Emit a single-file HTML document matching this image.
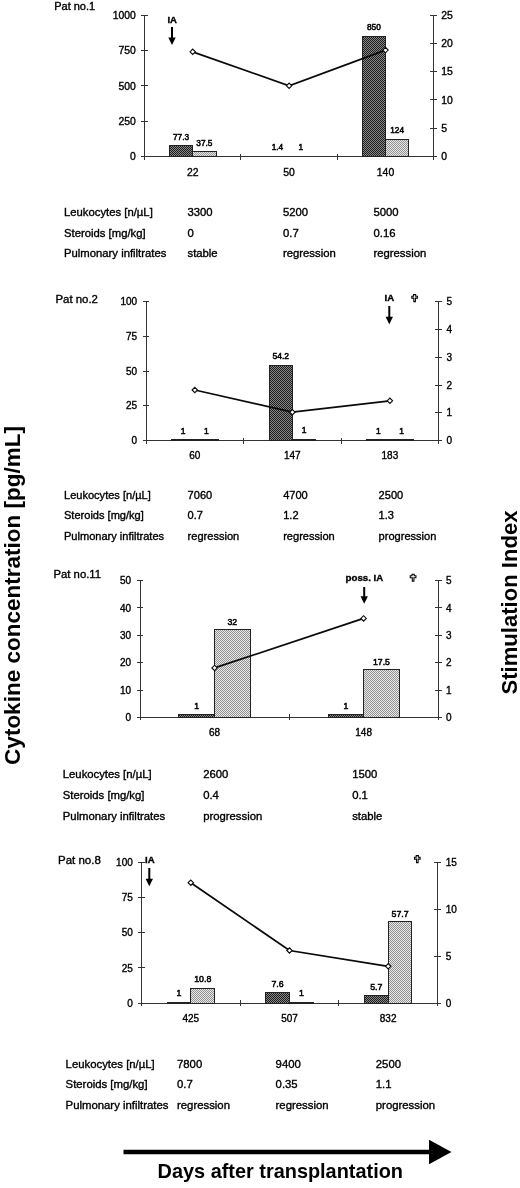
<!DOCTYPE html>
<html><head><meta charset="utf-8"><title>Figure</title>
<style>
html,body{margin:0;padding:0;background:#fff;}
body{width:520px;height:1188px;overflow:hidden;}
svg{display:block;font-family:"Liberation Sans",sans-serif;fill:#111;filter:grayscale(1);-webkit-font-smoothing:antialiased;}
svg text{fill:#000;stroke:#000;stroke-width:0.36px;}
svg text.dl{stroke-width:0.5px;}
svg text.big{stroke:none;}
</style></head><body>
<svg width="520" height="1188" viewBox="0 0 520 1188">
<defs>
<pattern id="dk" width="2" height="2" patternUnits="userSpaceOnUse"><rect width="2" height="2" fill="#868686"/><rect width="1" height="1" fill="#1e1e1e"/><rect x="1" y="1" width="1" height="1" fill="#1e1e1e"/></pattern>
<pattern id="lt" width="2" height="2" patternUnits="userSpaceOnUse"><rect width="2" height="2" fill="#e8e8e8"/><rect width="1" height="1" fill="#929292"/><rect x="1" y="1" width="1" height="1" fill="#929292"/></pattern>
</defs>
<rect width="520" height="1188" fill="#fff"/>
<line x1="144.5" y1="15" x2="144.5" y2="156.6" stroke="#333" stroke-width="1" shape-rendering="crispEdges"/>
<line x1="433.7" y1="15" x2="433.7" y2="156.6" stroke="#333" stroke-width="1" shape-rendering="crispEdges"/>
<line x1="144.5" y1="156.6" x2="433.7" y2="156.6" stroke="#333" stroke-width="1" shape-rendering="crispEdges"/>
<line x1="141.2" y1="156.6" x2="147.8" y2="156.6" stroke="#333" stroke-width="1" shape-rendering="crispEdges"/>
<text x="135.9" y="160.34" font-size="10.4" text-anchor="end">0</text>
<line x1="141.2" y1="121.2" x2="147.8" y2="121.2" stroke="#333" stroke-width="1" shape-rendering="crispEdges"/>
<text x="135.9" y="124.94" font-size="10.4" text-anchor="end">250</text>
<line x1="141.2" y1="85.8" x2="147.8" y2="85.8" stroke="#333" stroke-width="1" shape-rendering="crispEdges"/>
<text x="135.9" y="89.54" font-size="10.4" text-anchor="end">500</text>
<line x1="141.2" y1="50.4" x2="147.8" y2="50.4" stroke="#333" stroke-width="1" shape-rendering="crispEdges"/>
<text x="135.9" y="54.14" font-size="10.4" text-anchor="end">750</text>
<line x1="141.2" y1="15.0" x2="147.8" y2="15.0" stroke="#333" stroke-width="1" shape-rendering="crispEdges"/>
<text x="135.9" y="18.74" font-size="10.4" text-anchor="end">1000</text>
<line x1="430.4" y1="156.6" x2="437.0" y2="156.6" stroke="#333" stroke-width="1" shape-rendering="crispEdges"/>
<text x="441.2" y="160.34" font-size="10.4" text-anchor="start">0</text>
<line x1="430.4" y1="128.28" x2="437.0" y2="128.28" stroke="#333" stroke-width="1" shape-rendering="crispEdges"/>
<text x="441.2" y="132.02" font-size="10.4" text-anchor="start">5</text>
<line x1="430.4" y1="99.96" x2="437.0" y2="99.96" stroke="#333" stroke-width="1" shape-rendering="crispEdges"/>
<text x="441.2" y="103.7" font-size="10.4" text-anchor="start">10</text>
<line x1="430.4" y1="71.64" x2="437.0" y2="71.64" stroke="#333" stroke-width="1" shape-rendering="crispEdges"/>
<text x="441.2" y="75.38" font-size="10.4" text-anchor="start">15</text>
<line x1="430.4" y1="43.32" x2="437.0" y2="43.32" stroke="#333" stroke-width="1" shape-rendering="crispEdges"/>
<text x="441.2" y="47.06" font-size="10.4" text-anchor="start">20</text>
<line x1="430.4" y1="15.0" x2="437.0" y2="15.0" stroke="#333" stroke-width="1" shape-rendering="crispEdges"/>
<text x="441.2" y="18.74" font-size="10.4" text-anchor="start">25</text>
<line x1="144.5" y1="153.6" x2="144.5" y2="159.6" stroke="#333" stroke-width="1" shape-rendering="crispEdges"/>
<line x1="240.9" y1="153.6" x2="240.9" y2="159.6" stroke="#333" stroke-width="1" shape-rendering="crispEdges"/>
<line x1="337.3" y1="153.6" x2="337.3" y2="159.6" stroke="#333" stroke-width="1" shape-rendering="crispEdges"/>
<line x1="433.7" y1="153.6" x2="433.7" y2="159.6" stroke="#333" stroke-width="1" shape-rendering="crispEdges"/>
<rect x="169.4" y="145.65" width="23.3" height="10.95" fill="url(#dk)" stroke="#222" stroke-width="1" shape-rendering="crispEdges"/>
<rect x="192.7" y="151.29" width="23.3" height="5.31" fill="url(#lt)" stroke="#222" stroke-width="1" shape-rendering="crispEdges"/>
<text x="181.04999999999998" y="140.4" font-size="8.3" text-anchor="middle" class="dl">77.3</text>
<text x="204.35" y="146.0" font-size="8.3" text-anchor="middle" class="dl">37.5</text>
<text x="192.7" y="175.79999999999998" font-size="10.4" text-anchor="middle">22</text>
<text x="277.45000000000005" y="150.1" font-size="8.3" text-anchor="middle" class="dl">1.4</text>
<text x="300.75" y="150.2" font-size="8.3" text-anchor="middle" class="dl">1</text>
<text x="289.1" y="175.79999999999998" font-size="10.4" text-anchor="middle">50</text>
<rect x="362.2" y="36.24" width="23.3" height="120.36" fill="url(#dk)" stroke="#222" stroke-width="1" shape-rendering="crispEdges"/>
<rect x="385.5" y="139.04" width="23.3" height="17.56" fill="url(#lt)" stroke="#222" stroke-width="1" shape-rendering="crispEdges"/>
<text x="373.85" y="29.8" font-size="8.3" text-anchor="middle" class="dl">850</text>
<text x="397.15" y="133.4" font-size="8.3" text-anchor="middle" class="dl">124</text>
<text x="385.5" y="175.79999999999998" font-size="10.4" text-anchor="middle">140</text>
<path d="M192.7 51.8L289.1 85.8L385.5 50.1" fill="none" stroke="#0a0a0a" stroke-width="1.75"/>
<path d="M190.0 51.8L192.7 49.099999999999994L195.39999999999998 51.8L192.7 54.5Z" fill="#fff" stroke="#0a0a0a" stroke-width="1.1"/>
<path d="M286.40000000000003 85.8L289.1 83.1L291.8 85.8L289.1 88.5Z" fill="#fff" stroke="#0a0a0a" stroke-width="1.1"/>
<path d="M382.8 50.1L385.5 47.4L388.2 50.1L385.5 52.800000000000004Z" fill="#fff" stroke="#0a0a0a" stroke-width="1.1"/>
<text x="54.2" y="10" font-size="11" text-anchor="start">Pat no.1</text>
<text x="64" y="215.8" font-size="11.3" text-anchor="start">Leukocytes [n/µL]</text>
<text x="187.5" y="215.8" font-size="11.3" text-anchor="start">3300</text>
<text x="283" y="215.8" font-size="11.3" text-anchor="start">5200</text>
<text x="373.5" y="215.8" font-size="11.3" text-anchor="start">5000</text>
<text x="64" y="236.5" font-size="11.3" text-anchor="start">Steroids [mg/kg]</text>
<text x="187.5" y="236.5" font-size="11.3" text-anchor="start">0</text>
<text x="283" y="236.5" font-size="11.3" text-anchor="start">0.7</text>
<text x="373.5" y="236.5" font-size="11.3" text-anchor="start">0.16</text>
<text x="64" y="257.3" font-size="11.3" text-anchor="start">Pulmonary infiltrates</text>
<text x="187.5" y="257.3" font-size="11.3" text-anchor="start">stable</text>
<text x="283" y="257.3" font-size="11.3" text-anchor="start">regression</text>
<text x="373.5" y="257.3" font-size="11.3" text-anchor="start">regression</text>
<text x="172.2" y="23" font-size="9.5" text-anchor="middle" font-weight="bold">IA</text>
<line x1="172" y1="27" x2="172" y2="41" stroke="#000" stroke-width="2"/>
<path d="M168.3 37.4L175.7 37.4L172 45Z" fill="#000"/>
<line x1="146" y1="301.6" x2="146" y2="440.6" stroke="#333" stroke-width="1" shape-rendering="crispEdges"/>
<line x1="438.7" y1="301.6" x2="438.7" y2="440.6" stroke="#333" stroke-width="1" shape-rendering="crispEdges"/>
<line x1="146" y1="440.6" x2="438.7" y2="440.6" stroke="#333" stroke-width="1" shape-rendering="crispEdges"/>
<line x1="142.7" y1="440.6" x2="149.3" y2="440.6" stroke="#333" stroke-width="1" shape-rendering="crispEdges"/>
<text x="137.1" y="444.2" font-size="10" text-anchor="end">0</text>
<line x1="142.7" y1="405.85" x2="149.3" y2="405.85" stroke="#333" stroke-width="1" shape-rendering="crispEdges"/>
<text x="137.1" y="409.45" font-size="10" text-anchor="end">25</text>
<line x1="142.7" y1="371.1" x2="149.3" y2="371.1" stroke="#333" stroke-width="1" shape-rendering="crispEdges"/>
<text x="137.1" y="374.7" font-size="10" text-anchor="end">50</text>
<line x1="142.7" y1="336.35" x2="149.3" y2="336.35" stroke="#333" stroke-width="1" shape-rendering="crispEdges"/>
<text x="137.1" y="339.95" font-size="10" text-anchor="end">75</text>
<line x1="142.7" y1="301.6" x2="149.3" y2="301.6" stroke="#333" stroke-width="1" shape-rendering="crispEdges"/>
<text x="137.1" y="305.2" font-size="10" text-anchor="end">100</text>
<line x1="435.4" y1="440.6" x2="442.0" y2="440.6" stroke="#333" stroke-width="1" shape-rendering="crispEdges"/>
<text x="446.4" y="444.2" font-size="10" text-anchor="start">0</text>
<line x1="435.4" y1="412.8" x2="442.0" y2="412.8" stroke="#333" stroke-width="1" shape-rendering="crispEdges"/>
<text x="446.4" y="416.4" font-size="10" text-anchor="start">1</text>
<line x1="435.4" y1="385.0" x2="442.0" y2="385.0" stroke="#333" stroke-width="1" shape-rendering="crispEdges"/>
<text x="446.4" y="388.6" font-size="10" text-anchor="start">2</text>
<line x1="435.4" y1="357.2" x2="442.0" y2="357.2" stroke="#333" stroke-width="1" shape-rendering="crispEdges"/>
<text x="446.4" y="360.8" font-size="10" text-anchor="start">3</text>
<line x1="435.4" y1="329.4" x2="442.0" y2="329.4" stroke="#333" stroke-width="1" shape-rendering="crispEdges"/>
<text x="446.4" y="333.0" font-size="10" text-anchor="start">4</text>
<line x1="435.4" y1="301.6" x2="442.0" y2="301.6" stroke="#333" stroke-width="1" shape-rendering="crispEdges"/>
<text x="446.4" y="305.2" font-size="10" text-anchor="start">5</text>
<line x1="146.0" y1="437.6" x2="146.0" y2="443.6" stroke="#333" stroke-width="1" shape-rendering="crispEdges"/>
<line x1="243.57" y1="437.6" x2="243.57" y2="443.6" stroke="#333" stroke-width="1" shape-rendering="crispEdges"/>
<line x1="341.13" y1="437.6" x2="341.13" y2="443.6" stroke="#333" stroke-width="1" shape-rendering="crispEdges"/>
<line x1="438.7" y1="437.6" x2="438.7" y2="443.6" stroke="#333" stroke-width="1" shape-rendering="crispEdges"/>
<rect x="170.98" y="438.9" width="24.3" height="2.2" fill="#222" shape-rendering="crispEdges"/>
<rect x="194.28" y="438.9" width="24.3" height="2.2" fill="#222" shape-rendering="crispEdges"/>
<text x="183.13333333333333" y="433.8" font-size="8.5" text-anchor="middle" class="dl">1</text>
<text x="206.43333333333334" y="433.8" font-size="8.5" text-anchor="middle" class="dl">1</text>
<text x="194.78333333333333" y="459.0" font-size="10" text-anchor="middle">60</text>
<rect x="269.05" y="365.26" width="23.3" height="75.34" fill="url(#dk)" stroke="#222" stroke-width="1" shape-rendering="crispEdges"/>
<rect x="291.85" y="438.9" width="24.3" height="2.2" fill="#222" shape-rendering="crispEdges"/>
<text x="280.70000000000005" y="358.9" font-size="8.5" text-anchor="middle" class="dl">54.2</text>
<text x="304.0" y="432.5" font-size="8.5" text-anchor="middle" class="dl">1</text>
<text x="292.35" y="459.0" font-size="10" text-anchor="middle">147</text>
<rect x="366.12" y="438.9" width="24.3" height="2.2" fill="#222" shape-rendering="crispEdges"/>
<rect x="389.42" y="438.9" width="24.3" height="2.2" fill="#222" shape-rendering="crispEdges"/>
<text x="378.26666666666665" y="433.8" font-size="8.5" text-anchor="middle" class="dl">1</text>
<text x="401.5666666666666" y="433.8" font-size="8.5" text-anchor="middle" class="dl">1</text>
<text x="389.91666666666663" y="459.0" font-size="10" text-anchor="middle">183</text>
<path d="M194.8 390.0L292.4 412.2L389.9 400.8" fill="none" stroke="#0a0a0a" stroke-width="1.75"/>
<path d="M192.10000000000002 390.0L194.8 387.3L197.5 390.0L194.8 392.7Z" fill="#fff" stroke="#0a0a0a" stroke-width="1.1"/>
<path d="M289.7 412.2L292.4 409.5L295.09999999999997 412.2L292.4 414.9Z" fill="#fff" stroke="#0a0a0a" stroke-width="1.1"/>
<path d="M387.2 400.8L389.9 398.1L392.59999999999997 400.8L389.9 403.5Z" fill="#fff" stroke="#0a0a0a" stroke-width="1.1"/>
<text x="55.5" y="303" font-size="11.4" text-anchor="start">Pat no.2</text>
<text x="64" y="499" font-size="11.05" text-anchor="start">Leukocytes [n/µL]</text>
<text x="187.6" y="499" font-size="11.05" text-anchor="start">7060</text>
<text x="283.2" y="499" font-size="11.05" text-anchor="start">4700</text>
<text x="378.6" y="499" font-size="11.05" text-anchor="start">2500</text>
<text x="64" y="519.2" font-size="11.05" text-anchor="start">Steroids [mg/kg]</text>
<text x="187.6" y="519.2" font-size="11.05" text-anchor="start">0.7</text>
<text x="283.2" y="519.2" font-size="11.05" text-anchor="start">1.2</text>
<text x="378.6" y="519.2" font-size="11.05" text-anchor="start">1.3</text>
<text x="64" y="539.5" font-size="11.05" text-anchor="start">Pulmonary infiltrates</text>
<text x="187.6" y="539.5" font-size="11.05" text-anchor="start">regression</text>
<text x="283.2" y="539.5" font-size="11.05" text-anchor="start">regression</text>
<text x="378.6" y="539.5" font-size="11.05" text-anchor="start">progression</text>
<text x="389.4" y="300.8" font-size="9.6" text-anchor="middle" font-weight="bold">IA</text>
<line x1="389.3" y1="306" x2="389.3" y2="320.3" stroke="#000" stroke-width="2"/>
<path d="M385.6 316.7L393.0 316.7L389.3 324.3Z" fill="#000"/>
<path transform="translate(414.6,294.2)" d="M-1.1 0.4H1.1V2H2.85V3.9H0.8V7.4H-0.8V3.9H-2.85V2H-1.1Z" fill="#fff" stroke="#000" stroke-width="1.05"/>
<line x1="140" y1="580.6" x2="140" y2="717.4" stroke="#333" stroke-width="1" shape-rendering="crispEdges"/>
<line x1="438.2" y1="580.6" x2="438.2" y2="717.4" stroke="#333" stroke-width="1" shape-rendering="crispEdges"/>
<line x1="140" y1="717.4" x2="438.2" y2="717.4" stroke="#333" stroke-width="1" shape-rendering="crispEdges"/>
<line x1="136.7" y1="717.4" x2="143.3" y2="717.4" stroke="#333" stroke-width="1" shape-rendering="crispEdges"/>
<text x="131.1" y="721.0" font-size="10" text-anchor="end">0</text>
<line x1="136.7" y1="690.04" x2="143.3" y2="690.04" stroke="#333" stroke-width="1" shape-rendering="crispEdges"/>
<text x="131.1" y="693.64" font-size="10" text-anchor="end">10</text>
<line x1="136.7" y1="662.68" x2="143.3" y2="662.68" stroke="#333" stroke-width="1" shape-rendering="crispEdges"/>
<text x="131.1" y="666.28" font-size="10" text-anchor="end">20</text>
<line x1="136.7" y1="635.32" x2="143.3" y2="635.32" stroke="#333" stroke-width="1" shape-rendering="crispEdges"/>
<text x="131.1" y="638.92" font-size="10" text-anchor="end">30</text>
<line x1="136.7" y1="607.96" x2="143.3" y2="607.96" stroke="#333" stroke-width="1" shape-rendering="crispEdges"/>
<text x="131.1" y="611.56" font-size="10" text-anchor="end">40</text>
<line x1="136.7" y1="580.6" x2="143.3" y2="580.6" stroke="#333" stroke-width="1" shape-rendering="crispEdges"/>
<text x="131.1" y="584.2" font-size="10" text-anchor="end">50</text>
<line x1="434.9" y1="717.4" x2="441.5" y2="717.4" stroke="#333" stroke-width="1" shape-rendering="crispEdges"/>
<text x="445.9" y="721.0" font-size="10" text-anchor="start">0</text>
<line x1="434.9" y1="690.04" x2="441.5" y2="690.04" stroke="#333" stroke-width="1" shape-rendering="crispEdges"/>
<text x="445.9" y="693.64" font-size="10" text-anchor="start">1</text>
<line x1="434.9" y1="662.68" x2="441.5" y2="662.68" stroke="#333" stroke-width="1" shape-rendering="crispEdges"/>
<text x="445.9" y="666.28" font-size="10" text-anchor="start">2</text>
<line x1="434.9" y1="635.32" x2="441.5" y2="635.32" stroke="#333" stroke-width="1" shape-rendering="crispEdges"/>
<text x="445.9" y="638.92" font-size="10" text-anchor="start">3</text>
<line x1="434.9" y1="607.96" x2="441.5" y2="607.96" stroke="#333" stroke-width="1" shape-rendering="crispEdges"/>
<text x="445.9" y="611.56" font-size="10" text-anchor="start">4</text>
<line x1="434.9" y1="580.6" x2="441.5" y2="580.6" stroke="#333" stroke-width="1" shape-rendering="crispEdges"/>
<text x="445.9" y="584.2" font-size="10" text-anchor="start">5</text>
<line x1="140.0" y1="714.4" x2="140.0" y2="720.4" stroke="#333" stroke-width="1" shape-rendering="crispEdges"/>
<line x1="289.1" y1="714.4" x2="289.1" y2="720.4" stroke="#333" stroke-width="1" shape-rendering="crispEdges"/>
<line x1="438.2" y1="714.4" x2="438.2" y2="720.4" stroke="#333" stroke-width="1" shape-rendering="crispEdges"/>
<rect x="178.95" y="714.66" width="35.6" height="2.74" fill="url(#dk)" stroke="#222" stroke-width="1" shape-rendering="crispEdges"/>
<rect x="214.55" y="629.85" width="35.6" height="87.55" fill="url(#lt)" stroke="#222" stroke-width="1" shape-rendering="crispEdges"/>
<text x="196.75" y="708.8" font-size="8.7" text-anchor="middle" class="dl">1</text>
<text x="232.35000000000002" y="625.0" font-size="8.7" text-anchor="middle" class="dl">32</text>
<text x="214.55" y="735.6" font-size="10" text-anchor="middle">68</text>
<rect x="328.05" y="714.66" width="35.6" height="2.74" fill="url(#dk)" stroke="#222" stroke-width="1" shape-rendering="crispEdges"/>
<rect x="363.65" y="669.52" width="35.6" height="47.88" fill="url(#lt)" stroke="#222" stroke-width="1" shape-rendering="crispEdges"/>
<text x="345.84999999999997" y="708.8" font-size="8.7" text-anchor="middle" class="dl">1</text>
<text x="381.45" y="664.7" font-size="8.7" text-anchor="middle" class="dl">17.5</text>
<text x="363.65" y="735.6" font-size="10" text-anchor="middle">148</text>
<path d="M214.6 667.9L363.6 618.4" fill="none" stroke="#0a0a0a" stroke-width="1.75"/>
<path d="M211.9 667.9L214.6 665.1999999999999L217.29999999999998 667.9L214.6 670.6Z" fill="#fff" stroke="#0a0a0a" stroke-width="1.1"/>
<path d="M360.90000000000003 618.4L363.6 615.6999999999999L366.3 618.4L363.6 621.1Z" fill="#fff" stroke="#0a0a0a" stroke-width="1.1"/>
<text x="53.5" y="578.3" font-size="11.3" text-anchor="start">Pat no.11</text>
<text x="62.8" y="778.3" font-size="11.3" text-anchor="start">Leukocytes [n/µL]</text>
<text x="203.2" y="778.3" font-size="11.3" text-anchor="start">2600</text>
<text x="352.2" y="778.3" font-size="11.3" text-anchor="start">1500</text>
<text x="62.8" y="799.2" font-size="11.3" text-anchor="start">Steroids [mg/kg]</text>
<text x="203.2" y="799.2" font-size="11.3" text-anchor="start">0.4</text>
<text x="352.2" y="799.2" font-size="11.3" text-anchor="start">0.1</text>
<text x="62.8" y="819.7" font-size="11.3" text-anchor="start">Pulmonary infiltrates</text>
<text x="203.2" y="819.7" font-size="11.3" text-anchor="start">progression</text>
<text x="352.2" y="819.7" font-size="11.3" text-anchor="start">stable</text>
<text x="364.4" y="580.8" font-size="9.7" text-anchor="middle" font-weight="bold">poss. IA</text>
<line x1="364.2" y1="587" x2="364.2" y2="599.8" stroke="#000" stroke-width="2"/>
<path d="M360.5 596.2L367.9 596.2L364.2 603.8Z" fill="#000"/>
<path transform="translate(413.1,573.8)" d="M-1.1 0.4H1.1V2H2.85V3.9H0.8V7.4H-0.8V3.9H-2.85V2H-1.1Z" fill="#fff" stroke="#000" stroke-width="1.05"/>
<line x1="141.5" y1="862" x2="141.5" y2="1003.3" stroke="#333" stroke-width="1" shape-rendering="crispEdges"/>
<line x1="437.5" y1="862" x2="437.5" y2="1003.3" stroke="#333" stroke-width="1" shape-rendering="crispEdges"/>
<line x1="141.5" y1="1003.3" x2="437.5" y2="1003.3" stroke="#333" stroke-width="1" shape-rendering="crispEdges"/>
<line x1="138.2" y1="1003.3" x2="144.8" y2="1003.3" stroke="#333" stroke-width="1" shape-rendering="crispEdges"/>
<text x="132.8" y="1006.9" font-size="10" text-anchor="end">0</text>
<line x1="138.2" y1="967.97" x2="144.8" y2="967.97" stroke="#333" stroke-width="1" shape-rendering="crispEdges"/>
<text x="132.8" y="971.57" font-size="10" text-anchor="end">25</text>
<line x1="138.2" y1="932.65" x2="144.8" y2="932.65" stroke="#333" stroke-width="1" shape-rendering="crispEdges"/>
<text x="132.8" y="936.25" font-size="10" text-anchor="end">50</text>
<line x1="138.2" y1="897.33" x2="144.8" y2="897.33" stroke="#333" stroke-width="1" shape-rendering="crispEdges"/>
<text x="132.8" y="900.93" font-size="10" text-anchor="end">75</text>
<line x1="138.2" y1="862.0" x2="144.8" y2="862.0" stroke="#333" stroke-width="1" shape-rendering="crispEdges"/>
<text x="132.8" y="865.6" font-size="10" text-anchor="end">100</text>
<line x1="434.2" y1="1003.3" x2="440.8" y2="1003.3" stroke="#333" stroke-width="1" shape-rendering="crispEdges"/>
<text x="445.8" y="1006.9" font-size="10" text-anchor="start">0</text>
<line x1="434.2" y1="956.2" x2="440.8" y2="956.2" stroke="#333" stroke-width="1" shape-rendering="crispEdges"/>
<text x="445.8" y="959.8" font-size="10" text-anchor="start">5</text>
<line x1="434.2" y1="909.1" x2="440.8" y2="909.1" stroke="#333" stroke-width="1" shape-rendering="crispEdges"/>
<text x="445.8" y="912.7" font-size="10" text-anchor="start">10</text>
<line x1="434.2" y1="862.0" x2="440.8" y2="862.0" stroke="#333" stroke-width="1" shape-rendering="crispEdges"/>
<text x="445.8" y="865.6" font-size="10" text-anchor="start">15</text>
<line x1="141.5" y1="1000.3" x2="141.5" y2="1006.3" stroke="#333" stroke-width="1" shape-rendering="crispEdges"/>
<line x1="240.17" y1="1000.3" x2="240.17" y2="1006.3" stroke="#333" stroke-width="1" shape-rendering="crispEdges"/>
<line x1="338.83" y1="1000.3" x2="338.83" y2="1006.3" stroke="#333" stroke-width="1" shape-rendering="crispEdges"/>
<line x1="437.5" y1="1000.3" x2="437.5" y2="1006.3" stroke="#333" stroke-width="1" shape-rendering="crispEdges"/>
<rect x="166.53" y="1001.6" width="24.8" height="2.2" fill="#222" shape-rendering="crispEdges"/>
<rect x="190.83" y="988.04" width="23.8" height="15.26" fill="url(#lt)" stroke="#222" stroke-width="1" shape-rendering="crispEdges"/>
<text x="178.93333333333334" y="995.7" font-size="8.8" text-anchor="middle" class="dl">1</text>
<text x="202.73333333333335" y="981.8" font-size="8.8" text-anchor="middle" class="dl">10.8</text>
<text x="190.83333333333334" y="1022.4" font-size="10" text-anchor="middle">425</text>
<rect x="265.7" y="992.56" width="23.8" height="10.74" fill="url(#dk)" stroke="#222" stroke-width="1" shape-rendering="crispEdges"/>
<rect x="289.0" y="1001.6" width="24.8" height="2.2" fill="#222" shape-rendering="crispEdges"/>
<text x="277.6" y="987.1" font-size="8.8" text-anchor="middle" class="dl">7.6</text>
<text x="301.4" y="995.7" font-size="8.8" text-anchor="middle" class="dl">1</text>
<text x="289.5" y="1022.4" font-size="10" text-anchor="middle">507</text>
<rect x="364.37" y="995.25" width="23.8" height="8.05" fill="url(#dk)" stroke="#222" stroke-width="1" shape-rendering="crispEdges"/>
<rect x="388.17" y="921.77" width="23.8" height="81.53" fill="url(#lt)" stroke="#222" stroke-width="1" shape-rendering="crispEdges"/>
<text x="376.2666666666667" y="989.9" font-size="8.8" text-anchor="middle" class="dl">5.7</text>
<text x="400.06666666666666" y="916.5" font-size="8.8" text-anchor="middle" class="dl">57.7</text>
<text x="388.1666666666667" y="1022.4" font-size="10" text-anchor="middle">832</text>
<path d="M190.8 882.7L289.5 950.5L388.2 966.3" fill="none" stroke="#0a0a0a" stroke-width="1.75"/>
<path d="M188.10000000000002 882.7L190.8 880.0L193.5 882.7L190.8 885.4000000000001Z" fill="#fff" stroke="#0a0a0a" stroke-width="1.1"/>
<path d="M286.8 950.5L289.5 947.8L292.2 950.5L289.5 953.2Z" fill="#fff" stroke="#0a0a0a" stroke-width="1.1"/>
<path d="M385.5 966.3L388.2 963.5999999999999L390.9 966.3L388.2 969.0Z" fill="#fff" stroke="#0a0a0a" stroke-width="1.1"/>
<text x="58" y="863.8" font-size="11.5" text-anchor="start">Pat no.8</text>
<text x="65.6" y="1067.7" font-size="11.35" text-anchor="start">Leukocytes [n/µL]</text>
<text x="177" y="1067.7" font-size="11.35" text-anchor="start">7800</text>
<text x="275.6" y="1067.7" font-size="11.35" text-anchor="start">9400</text>
<text x="375.8" y="1067.7" font-size="11.35" text-anchor="start">2500</text>
<text x="65.6" y="1088.3" font-size="11.35" text-anchor="start">Steroids [mg/kg]</text>
<text x="177" y="1088.3" font-size="11.35" text-anchor="start">0.7</text>
<text x="275.6" y="1088.3" font-size="11.35" text-anchor="start">0.35</text>
<text x="375.8" y="1088.3" font-size="11.35" text-anchor="start">1.1</text>
<text x="65.6" y="1109" font-size="11.35" text-anchor="start">Pulmonary infiltrates</text>
<text x="177" y="1109" font-size="11.35" text-anchor="start">regression</text>
<text x="275.6" y="1109" font-size="11.35" text-anchor="start">regression</text>
<text x="375.8" y="1109" font-size="11.35" text-anchor="start">progression</text>
<text x="149.9" y="862.6" font-size="9.6" text-anchor="middle" font-weight="bold">IA</text>
<line x1="149.3" y1="868" x2="149.3" y2="882.3" stroke="#000" stroke-width="2"/>
<path d="M145.6 878.7L153.0 878.7L149.3 886.3Z" fill="#000"/>
<path transform="translate(417.3,855.2)" d="M-1.1 0.4H1.1V2H2.85V3.9H0.8V7.4H-0.8V3.9H-2.85V2H-1.1Z" fill="#fff" stroke="#000" stroke-width="1.05"/>
<text transform="translate(19.5,595.5) rotate(-90)" class="big" font-size="22.5" font-weight="bold" text-anchor="middle">Cytokine concentration [pg/mL]</text>
<text transform="translate(517.4,602.5) rotate(-90)" class="big" font-size="22.1" font-weight="bold" text-anchor="middle">Stimulation Index</text>
<path d="M123.5 1149.8H429V1139.8L451.5 1152L429 1164.2V1154.3H123.5Z" fill="#000"/>
<text x="280.3" y="1177.8" class="big" font-size="19.9" font-weight="bold" text-anchor="middle">Days after transplantation</text>
</svg>
</body></html>
